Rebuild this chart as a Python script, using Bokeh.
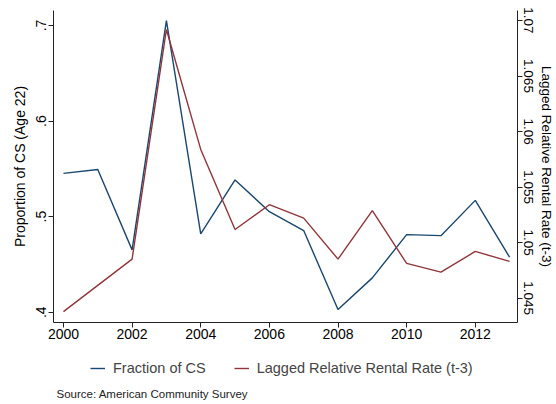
import math
from bokeh.plotting import figure
from bokeh.layouts import column
from bokeh.models import (Range1d, LinearAxis, FixedTicker, Legend, LegendItem, Label)
from bokeh.embed import file_html
from bokeh.resources import INLINE

years = [2000, 2001, 2002, 2003, 2004, 2005, 2006, 2007, 2008, 2009, 2010, 2011, 2012, 2013]
fraction_cs = [0.5453, 0.5493, 0.4652, 0.7052, 0.4819, 0.5384, 0.5052, 0.4854, 0.4028,
               0.4359, 0.4812, 0.4801, 0.5170, 0.4575]
lagged_rent = [1.04378, 1.04614, 1.04851, 1.06919, 1.05839, 1.05118, 1.05341, 1.05220,
               1.04851, 1.05287, 1.04812, 1.04734, 1.04920, 1.04830]
x_ticks = [2000, 2002, 2004, 2006, 2008, 2010, 2012]
left_ticks = [0.4, 0.5, 0.6, 0.7]
left_labels = [".4", ".5", ".6", ".7"]
right_ticks = [1.045, 1.05, 1.055, 1.06, 1.065, 1.07]
right_labels = ["1.045", "1.05", "1.055", "1.06", "1.065", "1.07"]
series_names = ["Fraction of CS", "Lagged Relative Rental Rate (t-3)"]
source_note = "Source: American Community Survey"

BLUE = "#1a476f"
RED = "#90353b"
FONT = "Liberation Sans"
AX = "#222222"

p = figure(width=556, height=346, output_backend="svg", toolbar_location=None,
           x_range=Range1d(1999.71, 2013.23), y_range=Range1d(0.3892, 0.7157),
           min_border_left=53, min_border_right=39, min_border_top=10, min_border_bottom=24)
p.extra_y_ranges = {"r": Range1d(1.0428, 1.0709)}
p.outline_line_color = None
p.grid.visible = False

p.line(years, fraction_cs, line_color=BLUE, line_width=1.4)
p.line(years, lagged_rent, line_color=RED, line_width=1.4, y_range_name="r")

def style(ax):
    ax.axis_line_color = AX
    ax.axis_line_width = 1
    ax.major_tick_line_color = AX
    ax.major_tick_out = 5
    ax.major_tick_in = 0
    ax.minor_tick_line_color = None
    ax.major_label_text_font = FONT
    ax.major_label_text_font_size = "14px"
    ax.major_label_text_color = "black"
    ax.axis_label_text_font = FONT
    ax.axis_label_text_font_size = "14px"
    ax.axis_label_text_font_style = "normal"
    ax.axis_label_text_color = "black"

xa = p.xaxis[0]
style(xa)
xa.ticker = FixedTicker(ticks=x_ticks)
xa.major_label_standoff = 1

ya = p.yaxis[0]
style(ya)
ya.ticker = FixedTicker(ticks=left_ticks)
ya.major_label_overrides = dict(zip(left_ticks, left_labels))
ya.major_label_orientation = "vertical"
ya.axis_label = "Proportion of CS (Age 22)"
ya.major_label_standoff = 2
ya.axis_label_standoff = 6

ra = LinearAxis(y_range_name="r")
style(ra)
ra.major_label_text_font_size = "13.5px"
ra.axis_label_text_font_size = "13.5px"
ra.ticker = FixedTicker(ticks=right_ticks)
ra.major_label_overrides = dict(zip(right_ticks, right_labels))
ra.major_label_orientation = "vertical"
ra.axis_label = "Lagged Relative Rental Rate (t-3)"
ra.axis_label_orientation = "vertical"
ra.major_label_standoff = 1
ra.axis_label_standoff = 3
p.add_layout(ra, "right")

# legend + source note strip below the chart (frame aligned with the chart's frame);
# the key lines use the same series, kept out of this strip's view
p2 = figure(width=556, height=58, output_backend="svg", toolbar_location=None,
            x_range=Range1d(0, 1), y_range=Range1d(0, 1),
            min_border_left=0, min_border_right=0, min_border_top=0, min_border_bottom=0)
p2.axis.visible = False
p2.grid.visible = False
p2.outline_line_color = None
d1 = p2.line(years, fraction_cs, line_color=BLUE, line_width=1.4)
d2 = p2.line(years, lagged_rent, line_color=RED, line_width=1.4)
legend = Legend(items=[LegendItem(label=series_names[0], renderers=[d1]),
                       LegendItem(label=series_names[1], renderers=[d2])],
                orientation="horizontal", location=(37, 26),
                label_text_font=FONT, label_text_font_size="14.5px",
                border_line_color=None, background_fill_alpha=0,
                glyph_width=15, label_standoff=8, spacing=28, padding=2, margin=0)
p2.add_layout(legend, "center")
src = Label(x=3, y=11, x_units="screen", y_units="screen",
            text=source_note, text_baseline="middle",
            text_font=FONT, text_font_size="11.5px", text_color="#222222")
p2.add_layout(src)

open("out.html", "w").write(file_html(column(p, p2, spacing=0), INLINE))
